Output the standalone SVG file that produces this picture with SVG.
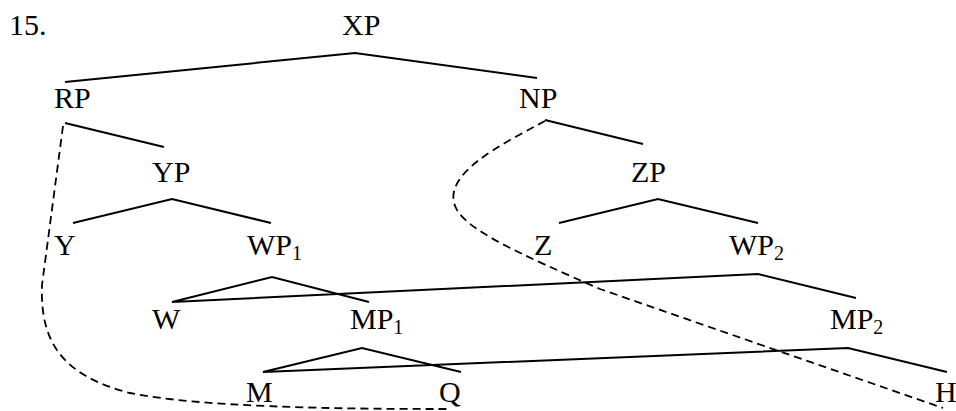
<svg xmlns="http://www.w3.org/2000/svg" width="956" height="411" viewBox="0 0 956 411">
<style>
text{font-family:"Liberation Serif","Times New Roman",serif;font-size:30px;fill:#000}
.sub{font-size:20px}
.e{stroke:#000;stroke-width:2;fill:none}
.d{stroke:#000;stroke-width:1.8;fill:none;stroke-dasharray:8,5}
</style>
<rect width="956" height="411" fill="#fff"/>
<text x="9" y="35">15.</text>
<g id="XP"><text x="342" y="35">XP</text></g>
<g id="RP"><text x="54" y="108">RP</text></g>
<g id="NP"><text x="519" y="108">NP</text></g>
<g id="YP"><text x="152" y="182">YP</text></g>
<g id="ZP"><text x="631" y="182">ZP</text></g>
<g id="Y"><text x="54" y="255">Y</text></g>
<g id="WP1"><text x="247" y="255">WP<tspan class="sub" dy="5">1</tspan></text></g>
<g id="Z"><text x="534" y="255">Z</text></g>
<g id="WP2"><text x="729" y="255">WP<tspan class="sub" dy="5">2</tspan></text></g>
<g id="W"><text x="152" y="329">W</text></g>
<g id="MP1"><text x="350" y="329">MP<tspan class="sub" dy="5">1</tspan></text></g>
<g id="MP2"><text x="830" y="329">MP<tspan class="sub" dy="5">2</tspan></text></g>
<g id="M"><text x="246" y="402">M</text></g>
<g id="Q"><text x="439" y="402">Q</text></g>
<g id="H"><text x="935" y="402">H</text></g>
<g id="connectors">
<polyline class="e" points="65,82 355,53 537,78"/>
<line class="e" x1="65" y1="123" x2="164" y2="147"/>
<line class="e" x1="545" y1="120" x2="643" y2="144"/>
<polyline class="e" points="73,223 172,199 271,223"/>
<polyline class="e" points="559,223 658,199 758,223"/>
<polyline class="e" points="369,302 272,277 172,302 758,274 856,298"/>
<polyline class="e" points="461,372 362,348 263,372 848,348 947,372"/>
<path class="d" d="M63,126 L42,285 C40,340 60,375 130,393 C200,407 330,409 447,409"/>
<path class="d" d="M545,121 C500,145 440,175 456,208 C466,230 520,254 600,289 L943,408"/>
</g>
</svg>
